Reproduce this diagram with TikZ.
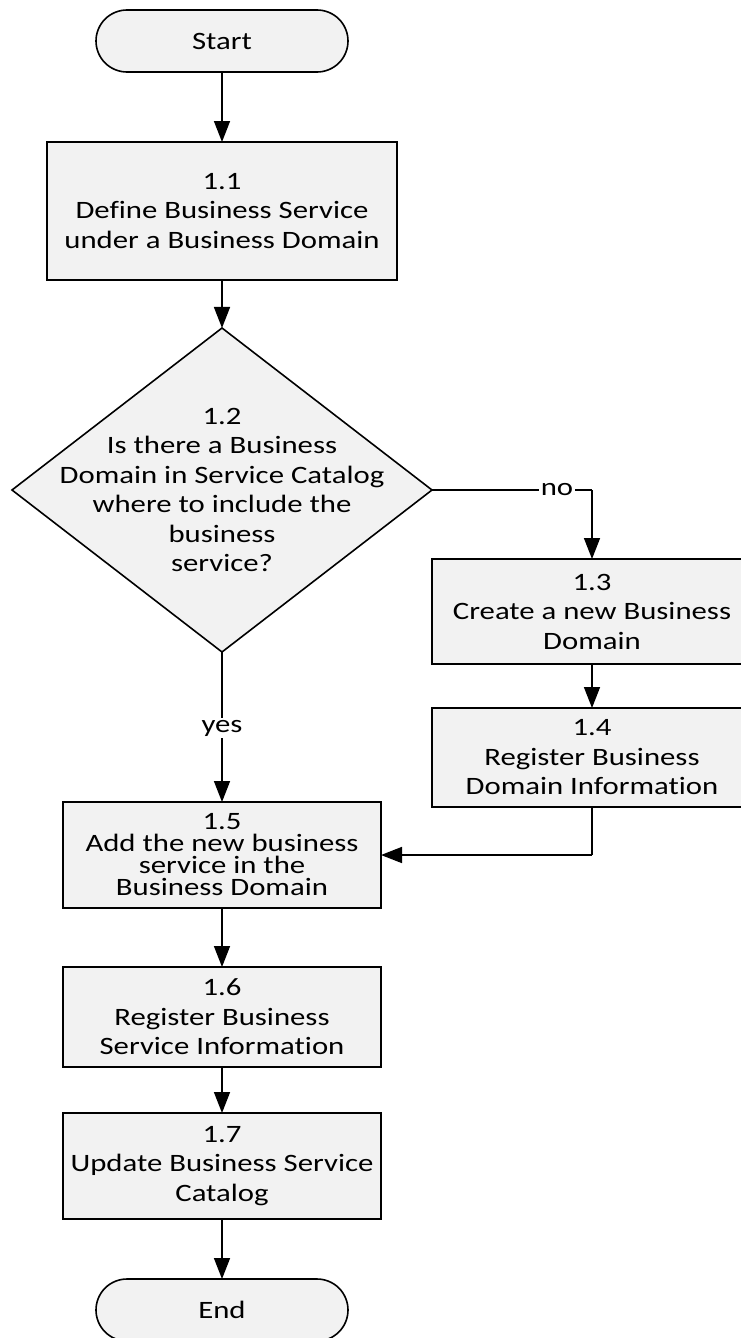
\documentclass[tikz,border=0pt]{standalone}
\usepackage{fontspec}
\setmainfont{Carlito}[FakeStretch=1.23, Ligatures=NoCommon]
\usetikzlibrary{shapes.geometric, arrows.meta}
\definecolor{boxgray}{HTML}{F2F2F2}

\begin{document}
\begin{tikzpicture}[x=1pt, y=-1pt,
  every node/.style={font=\fontsize{25}{29.5}\selectfont},
  flow/.style={line width=1.6pt, -{Triangle[length=21pt,width=16pt]}},
  link/.style={line width=1.6pt},
  box/.style={draw, line width=1.6pt, fill=boxgray, align=center,
              inner sep=0pt, outer sep=0pt},
  term/.style={box, rounded corners=31pt, minimum width=252pt, minimum height=62pt},
  lbl/.style={fill=white, inner sep=1.5pt}
]
\clip (0,0) rectangle (741,1338);

% terminals and process boxes
\node[term] (start) at (222,41) {Start};
\node[box, minimum width=350pt, minimum height=138pt] (b11) at (222,211)
  {1.1\\Define Business Service\\under a Business Domain};
\node[box, diamond, minimum width=420pt, minimum height=324pt] (d12) at (222,490) {};
\node[align=center] (d12t) at (d12.center)
  {1.2\\Is there a Business\\Domain in Service Catalog\\where to include the\\business\\service?};
\node[box, minimum width=320pt, minimum height=105pt] (b13) at (592,611.5)
  {1.3\\Create a new Business\\Domain};
\node[box, minimum width=320pt, minimum height=99pt] (b14) at (592,757.5)
  {1.4\\Register Business\\Domain Information};
\node[box, minimum width=318pt, minimum height=106pt,
      font=\fontsize{25}{22}\selectfont] (b15) at (222,855)
  {1.5\\Add the new business\\service in the\\Business Domain};
\node[box, minimum width=318pt, minimum height=100pt] (b16) at (222,1017)
  {1.6\\Register Business\\Service Information};
\node[box, minimum width=318pt, minimum height=106pt] (b17) at (222,1166)
  {1.7\\Update Business Service\\Catalog};
\node[term] (end) at (222,1310) {End};

% branch corners
\coordinate (noturn) at (b13.north |- d12.east);
\coordinate (backturn) at (b14.south |- b15.east);

% connectors
\draw[flow] (start) -- (b11);
\draw[flow] (b11) -- (d12);
\draw[link] (d12.east) -- (noturn);
\draw[flow] (noturn) -- (b13.north);
\node[lbl] (nolbl) at (557,490) {no};
\draw[flow] (d12.south) -- (b15.north);
\node[lbl] (yeslbl) at (222,728) {yes};
\draw[flow] (b13) -- (b14);
\draw[link] (b14.south) -- (backturn);
\draw[flow] (backturn) -- (b15.east);
\draw[flow] (b15) -- (b16);
\draw[flow] (b16) -- (b17);
\draw[flow] (b17) -- (end);
\end{tikzpicture}
\end{document}
